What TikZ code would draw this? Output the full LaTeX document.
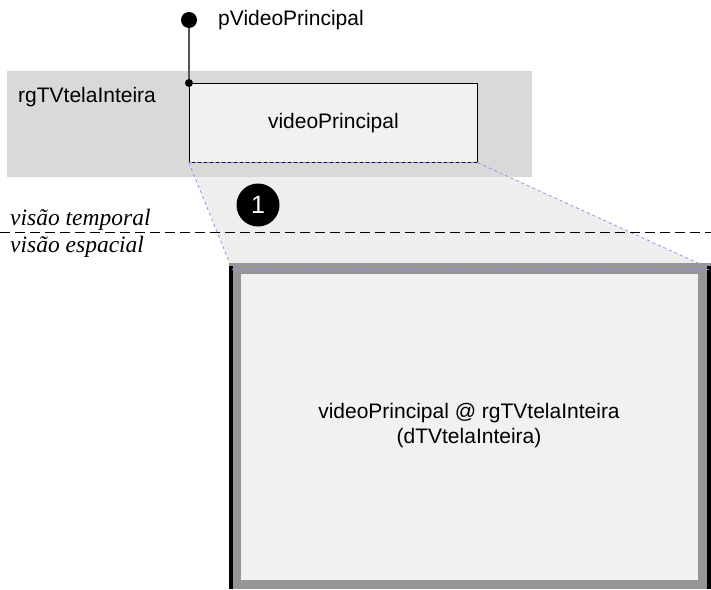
\documentclass[tikz,border=0pt]{standalone}
\usepackage{fontspec}
\setmainfont{Liberation Sans}
\newfontfamily\timesfont{Liberation Serif}
\definecolor{regiongray}{HTML}{D9D9D9}
\definecolor{boxfill}{HTML}{F1F1F1}
\definecolor{projfill}{HTML}{EEEEEE}
\definecolor{framegray}{HTML}{969696}
\definecolor{projblue}{HTML}{8888EE}
\definecolor{linegray}{HTML}{555555}
\begin{document}
\begin{tikzpicture}[x=1pt,y=-1pt,
  lbl/.style={font=\fontsize{21}{25}\selectfont, inner sep=0pt},
  ital/.style={font=\timesfont\itshape\fontsize{23.5}{27}\selectfont, inner sep=0pt, anchor=base west},
  projedge/.style={draw=projblue, dashed, line width=0.7pt},
  dotnode/.style={circle, fill=black, inner sep=0pt}]
\useasboundingbox (0,0) rectangle (711,589);
% projection
\coordinate (pbl) at (189,162);
\coordinate (pbr) at (477,162);
\coordinate (ptl) at (232,269);
\coordinate (ptr) at (711,269);
\fill[projfill] (pbl) -- (pbr) -- (ptr) -- (ptl) -- cycle;
% region
\node[fill=regiongray, minimum width=525pt, minimum height=106pt, anchor=north west, inner sep=0pt] (region) at (7,71) {};
\node[lbl, anchor=west] (rglabel) at (18,97) {rgTVtelaInteira};
% media box
\node[draw=black, line width=0.8pt, fill=boxfill, minimum width=288pt, minimum height=79pt, anchor=north west, inner sep=0pt, lbl] (vp) at (189,83) {videoPrincipal};
% projection edges
\draw[projedge] (vp.south west) -- (ptl);
\draw[projedge] (vp.south east) -- (ptr);
% big frame
\node[fill=framegray, minimum width=482pt, minimum height=326pt, anchor=north west, inner sep=0pt] (frame) at (229,263) {};
\fill[black] (229,266) rectangle (233,589);
\fill[black] (707,266) rectangle (711,589);
\node[fill=boxfill, minimum width=457pt, minimum height=306pt, anchor=north west, inner sep=0pt] (screen) at (241,274) {};
\node[lbl, align=center] (screentext) at (469,426) {videoPrincipal @ rgTVtelaInteira\\(dTVtelaInteira)};
\draw[projedge] (ptl) -- (ptr);
\draw[projedge] (vp.south west) -- (vp.south east);
% port
\node[dotnode, minimum size=16pt] (pdot) at (189,20) {};
\node[dotnode, minimum size=8pt] (cdot) at (vp.north west) {};
\draw[linegray, line width=1.2pt] (pdot) -- (cdot);
\node[lbl, anchor=west] (plabel) at (218,20) {pVideoPrincipal};
% step number
\node[circle, fill=black, text=white, minimum size=43pt, inner sep=0pt, font=\fontsize{25}{28}\selectfont] (one) at (258,205) {1};
% divider
\coordinate (dl) at (0,232);
\coordinate (dr) at (711,232);
\draw[black, line width=1pt, dash pattern=on 10pt off 5pt] (dl) -- (dr);
\node[ital] (temporal) at (10,225) {visão temporal};
\node[ital] (espacial) at (10,252) {visão espacial};
\end{tikzpicture}
\end{document}
